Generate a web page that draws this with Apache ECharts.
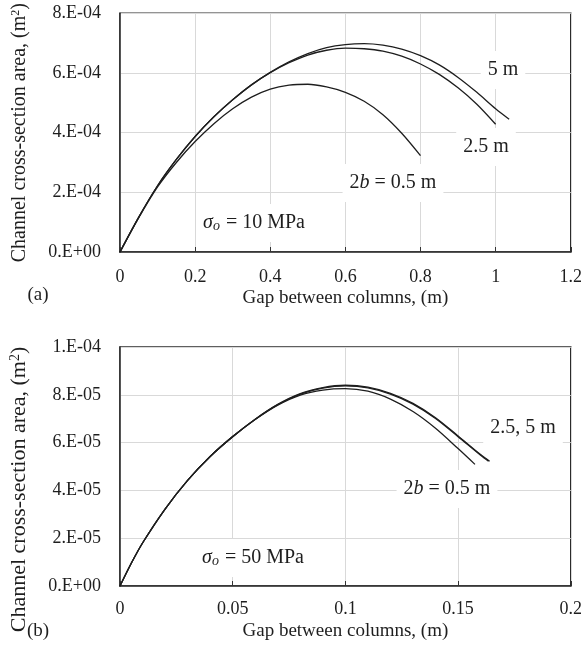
<!DOCTYPE html>
<html>
<head>
<meta charset="utf-8">
<script src="https://cdn.jsdelivr.net/npm/echarts@6/dist/echarts.min.js"></script>
<style>
  html, body { margin: 0; padding: 0; background: #fff; }
  #chart { width: 585px; height: 649px; }
</style>
</head>
<body>
<div id="chart"></div>
<script>
// Panel (a): sigma_o = 10 MPa, channel cross-section area vs. gap between columns
const gapA_5m   = [0, 0.05, 0.1, 0.15, 0.2, 0.25, 0.3, 0.35, 0.4, 0.45, 0.5, 0.55, 0.6, 0.65, 0.7, 0.75, 0.8, 0.85, 0.9, 0.95, 1.0, 1.036];
const areaA_5m  = [0, 1.17e-4, 2.22e-4, 3.10e-4, 3.87e-4, 4.53e-4, 5.10e-4, 5.60e-4, 6.02e-4, 6.37e-4, 6.65e-4, 6.85e-4, 6.95e-4, 6.98e-4, 6.93e-4, 6.80e-4, 6.58e-4, 6.27e-4, 5.85e-4, 5.35e-4, 4.80e-4, 4.45e-4];
const gapA_25m  = [0, 0.05, 0.1, 0.15, 0.2, 0.25, 0.3, 0.35, 0.4, 0.45, 0.5, 0.55, 0.6, 0.65, 0.7, 0.75, 0.8, 0.85, 0.9, 0.95, 1.0];
const areaA_25m = [0, 1.17e-4, 2.22e-4, 3.10e-4, 3.87e-4, 4.53e-4, 5.10e-4, 5.60e-4, 6.01e-4, 6.34e-4, 6.60e-4, 6.76e-4, 6.83e-4, 6.81e-4, 6.73e-4, 6.56e-4, 6.30e-4, 5.95e-4, 5.50e-4, 4.95e-4, 4.28e-4];
const gapA_05m  = [0, 0.05, 0.1, 0.15, 0.2, 0.25, 0.3, 0.35, 0.4, 0.45, 0.5, 0.55, 0.6, 0.65, 0.7, 0.75, 0.8];
const areaA_05m = [0, 1.15e-4, 2.18e-4, 3.00e-4, 3.70e-4, 4.30e-4, 4.80e-4, 5.19e-4, 5.46e-4, 5.59e-4, 5.62e-4, 5.53e-4, 5.35e-4, 5.05e-4, 4.60e-4, 3.98e-4, 3.23e-4];

// Panel (b): sigma_o = 50 MPa
const gapB_5m   = [0, 0.005, 0.01, 0.02, 0.03, 0.04, 0.05, 0.06, 0.07, 0.08, 0.09, 0.1, 0.11, 0.12, 0.13, 0.14, 0.15, 0.16, 0.164];
const areaB_5m  = [0, 0.95e-5, 1.80e-5, 3.22e-5, 4.42e-5, 5.42e-5, 6.25e-5, 6.98e-5, 7.60e-5, 8.05e-5, 8.30e-5, 8.40e-5, 8.32e-5, 8.06e-5, 7.64e-5, 7.04e-5, 6.28e-5, 5.50e-5, 5.22e-5];
const gapB_25m  = [0, 0.005, 0.01, 0.02, 0.03, 0.04, 0.05, 0.06, 0.07, 0.08, 0.09, 0.1, 0.11, 0.12, 0.13, 0.14, 0.15, 0.16, 0.1635];
const areaB_25m = [0, 0.95e-5, 1.80e-5, 3.22e-5, 4.42e-5, 5.42e-5, 6.25e-5, 6.98e-5, 7.59e-5, 8.03e-5, 8.28e-5, 8.37e-5, 8.29e-5, 8.03e-5, 7.61e-5, 7.01e-5, 6.25e-5, 5.47e-5, 5.22e-5];
const gapB_05m  = [0, 0.005, 0.01, 0.02, 0.03, 0.04, 0.05, 0.06, 0.07, 0.08, 0.09, 0.1, 0.11, 0.12, 0.13, 0.14, 0.15, 0.1575];
const areaB_05m = [0, 0.95e-5, 1.80e-5, 3.22e-5, 4.42e-5, 5.42e-5, 6.25e-5, 6.97e-5, 7.57e-5, 7.99e-5, 8.20e-5, 8.26e-5, 8.15e-5, 7.82e-5, 7.30e-5, 6.60e-5, 5.75e-5, 5.09e-5];

// Tick labels (Excel "0.E+00" style)
const yTicksA = ['0.E+00', '2.E-04', '4.E-04', '6.E-04', '8.E-04'];
const yTicksB = ['0.E+00', '2.E-05', '4.E-05', '6.E-05', '8.E-05', '1.E-04'];

const SERIF = '"Liberation Serif", "Times New Roman", serif';
const INK = '#1e1e1e';
const FRAME = '#2b2b2b';

function pairs(xs, ys) { return xs.map((x, i) => [x, ys[i]]); }

function curve(name, xs, ys, idx) {
  return {
    name, type: 'line', xAxisIndex: idx, yAxisIndex: idx,
    data: pairs(xs, ys), showSymbol: false, smooth: 0.3,
    lineStyle: { color: INK, width: 1.3 }, z: 3, silent: true
  };
}

function xAxisOf(idx, max, interval, nameGap, labelMargin) {
  return {
    type: 'value', gridIndex: idx, min: 0, max, interval,
    name: 'Gap between columns, (m)', nameLocation: 'middle', nameGap,
    nameTextStyle: { fontFamily: SERIF, fontSize: 19, color: INK },
    axisLine: { show: true, onZero: false, lineStyle: { color: FRAME, width: 1.5 } },
    axisTick: { show: true, inside: true, length: 5, lineStyle: { color: '#333', width: 1 } },
    axisLabel: { fontFamily: SERIF, fontSize: 18, color: INK, margin: labelMargin },
    splitLine: { show: true, lineStyle: { color: '#d9d9d9', width: 1 } }
  };
}

function yAxisOf(idx, max, interval, ticks, fontSize, padding) {
  return {
    type: 'value', gridIndex: idx, min: 0, max, interval,
    name: 'Channel cross-section area, (m{sup|2})', nameLocation: 'middle', nameGap: 90,
    nameTextStyle: {
      fontFamily: SERIF, fontSize, color: INK, padding,
      rich: { sup: { fontFamily: SERIF, fontSize: Math.round(fontSize * 0.62), color: INK, verticalAlign: 'top', padding: [0, 0, 8, 0] } }
    },
    axisLine: { show: true, onZero: false, lineStyle: { color: FRAME, width: 1.5 } },
    axisTick: { show: false },
    axisLabel: { fontFamily: SERIF, fontSize: 18, color: INK, margin: 19, formatter: (v, i) => ticks[i] },
    splitLine: { show: true, lineStyle: { color: '#d9d9d9', width: 1 } }
  };
}

function note(text, x, y, rich) {
  return {
    type: 'text', x, y, z: 1,
    style: {
      text, fill: INK, font: '20px ' + SERIF, align: 'center', verticalAlign: 'middle',
      backgroundColor: '#fff', padding: [9, 7], rich: rich || {}
    }
  };
}

const mathRich = {
  it: { fontFamily: SERIF, fontStyle: 'italic', fontSize: 20, fill: INK },
  sub: { fontFamily: SERIF, fontStyle: 'italic', fontSize: 14, fill: INK, verticalAlign: 'bottom', padding: [0, 1, 0, 0] }
};

const chart = echarts.init(document.getElementById('chart'), null, { renderer: 'canvas' });
chart.setOption({
  animation: false,
  backgroundColor: '#fff',
  grid: [
    { left: 120, top: 13, width: 453, height: 239, show: true, borderColor: FRAME, borderWidth: 1.5, backgroundColor: 'transparent' },
    { left: 120, top: 347, width: 452, height: 239, show: true, borderColor: FRAME, borderWidth: 1.5, backgroundColor: 'transparent' }
  ],
  xAxis: [ xAxisOf(0, 1.2, 0.2, 37, 16), xAxisOf(1, 0.2, 0.05, 36, 14) ],
  yAxis: [
    yAxisOf(0, 8e-4, 2e-4, yTicksA, 20, [0, 0, 0, 0]),
    yAxisOf(1, 1e-4, 2e-5, yTicksB, 22, [0, 46, 0, 0])
  ],
  series: [
    curve('5 m', gapA_5m, areaA_5m, 0),
    curve('2.5 m', gapA_25m, areaA_25m, 0),
    curve('0.5 m', gapA_05m, areaA_05m, 0),
    curve('5 m', gapB_5m, areaB_5m, 1),
    curve('2.5 m', gapB_25m, areaB_25m, 1),
    curve('0.5 m', gapB_05m, areaB_05m, 1)
  ],
  graphic: [
    note('5 m', 503, 70),
    note('2.5 m', 486, 147),
    note('2{it|b} = 0.5 m', 393, 183, mathRich),
    note('{it|σ}{sub|o} = 10 MPa', 254, 223, mathRich),
    note('2.5, 5 m', 523, 428),
    note('2{it|b} = 0.5 m', 447, 489, mathRich),
    note('{it|σ}{sub|o} = 50 MPa', 253, 558, mathRich),
    { type: 'text', x: 38, y: 295, z: 1, style: { text: '(a)', fill: INK, font: '19px ' + SERIF, align: 'center', verticalAlign: 'middle' } },
    { type: 'text', x: 38, y: 631, z: 1, style: { text: '(b)', fill: INK, font: '19px ' + SERIF, align: 'center', verticalAlign: 'middle' } }
  ]
});
</script>
</body>
</html>
